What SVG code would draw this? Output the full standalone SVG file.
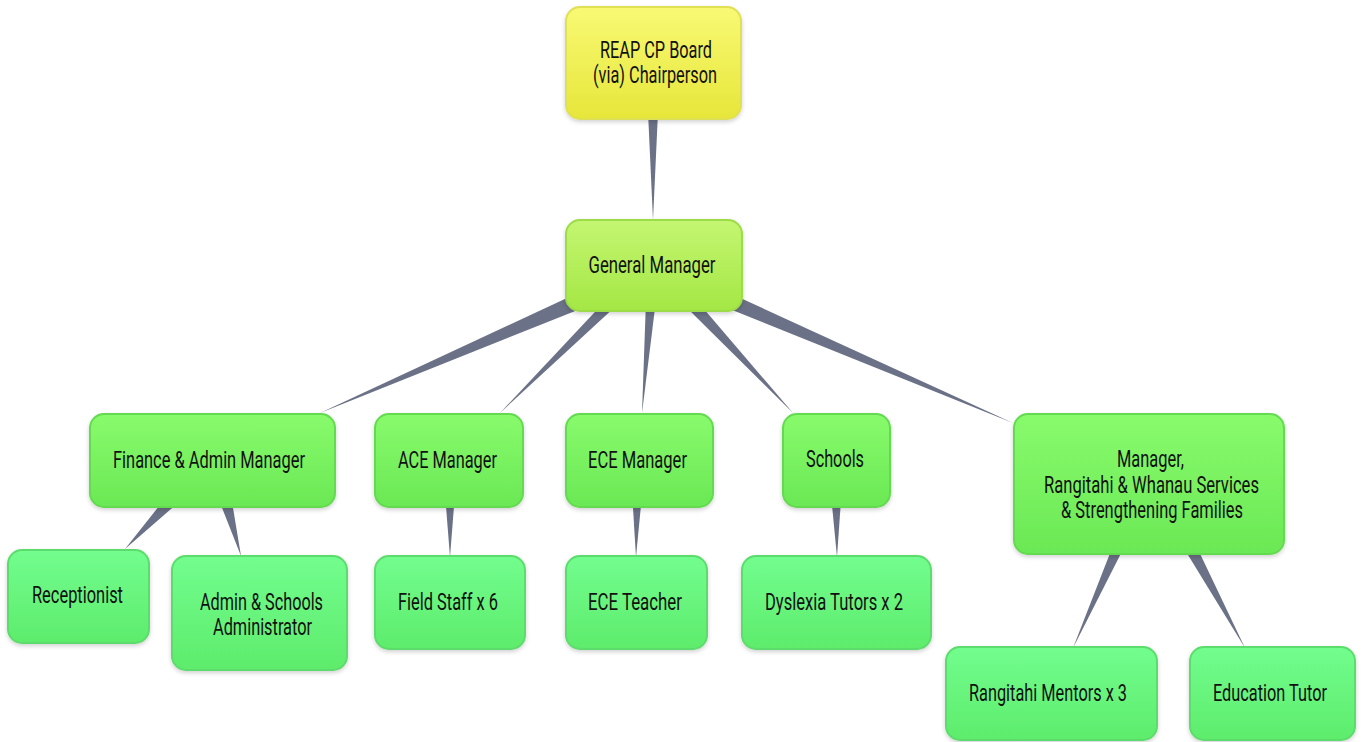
<svg xmlns="http://www.w3.org/2000/svg" width="1362" height="742" viewBox="0 0 1362 742">
<defs>
<linearGradient id="gY" x1="0" y1="0" x2="0" y2="1"><stop offset="0" stop-color="#f9f975"/><stop offset="1" stop-color="#e6e63a"/></linearGradient>
<linearGradient id="gL" x1="0" y1="0" x2="0" y2="1"><stop offset="0" stop-color="#c4f672"/><stop offset="1" stop-color="#a4e744"/></linearGradient>
<linearGradient id="gG" x1="0" y1="0" x2="0" y2="1"><stop offset="0" stop-color="#88fb6c"/><stop offset="1" stop-color="#6be855"/></linearGradient>
<linearGradient id="gM" x1="0" y1="0" x2="0" y2="1"><stop offset="0" stop-color="#72fd8e"/><stop offset="1" stop-color="#5eec6c"/></linearGradient>
<filter id="sh" x="-10%" y="-10%" width="120%" height="130%"><feDropShadow dx="0" dy="2" stdDeviation="2" flood-color="#000" flood-opacity="0.18"/></filter>
<style>
.n{filter:url(#sh);stroke-width:2}
.y{fill:url(#gY);stroke:#e0e055}
.l{fill:url(#gL);stroke:#9cdc48}
.g{fill:url(#gG);stroke:#63da50}
.m{fill:url(#gM);stroke:#5cdc6c}
.t{font-family:Roboto,"Liberation Sans",sans-serif;font-size:23px;fill:#111;text-anchor:middle}
.c{fill:#6b7186}
</style>
</defs>
<rect width="1362" height="742" fill="#ffffff"/>
<g id="connectors">
<polygon class="c" points="648,112 658,112 653,220"/>
<polygon class="c" points="320,413 591.6,304.4 585.2,289.6"/>
<polygon class="c" points="500,413 616,306 608,298"/>
<polygon class="c" points="642,413 646,300 656,300"/>
<polygon class="c" points="793,413 694.3,297.8 685.3,306.2"/>
<polygon class="c" points="1013,423 725.5,291.2 719.7,305"/>
<polygon class="c" points="125,549 176.5,504.2 167.5,495.4"/>
<polygon class="c" points="241,556 231,495.7 218.6,499.1"/>
<polygon class="c" points="445.5,500 454.5,500 450,557"/>
<polygon class="c" points="632.5,500 641.5,500 636,557"/>
<polygon class="c" points="831.5,500 841,500 837,557"/>
<polygon class="c" points="1073,648 1124.6,546.2 1114.6,541.6"/>
<polygon class="c" points="1245,648 1194.1,541.2 1183.3,547.2"/>
</g>
<g id="board"><rect class="n y" x="566" y="7" width="175" height="112" rx="14"/>
<text class="t" x="656" y="58" textLength="112" lengthAdjust="spacingAndGlyphs">REAP CP Board</text>
<text class="t" x="655" y="83" textLength="124" lengthAdjust="spacingAndGlyphs">(via) Chairperson</text></g>
<g id="gm"><rect class="n l" x="566" y="220" width="176" height="91" rx="14"/>
<text class="t" x="652" y="273" textLength="127" lengthAdjust="spacingAndGlyphs">General Manager</text></g>
<g id="finance"><rect class="n g" x="90" y="414" width="245" height="93" rx="14"/>
<text class="t" x="209" y="468" textLength="192" lengthAdjust="spacingAndGlyphs">Finance &amp; Admin Manager</text></g>
<g id="ace"><rect class="n g" x="375" y="414" width="148" height="93" rx="14"/>
<text class="t" x="447.5" y="468" textLength="99" lengthAdjust="spacingAndGlyphs">ACE Manager</text></g>
<g id="ece"><rect class="n g" x="566" y="414" width="147" height="93" rx="14"/>
<text class="t" x="637.5" y="468" textLength="99" lengthAdjust="spacingAndGlyphs">ECE Manager</text></g>
<g id="schools"><rect class="n g" x="783" y="414" width="107" height="93" rx="14"/>
<text class="t" x="835" y="467" textLength="58" lengthAdjust="spacingAndGlyphs">Schools</text></g>
<g id="rangitahi-manager"><rect class="n g" x="1014" y="414" width="270" height="140" rx="14"/>
<text class="t" x="1150.5" y="467" textLength="67" lengthAdjust="spacingAndGlyphs">Manager,</text>
<text class="t" x="1151.5" y="493" textLength="215" lengthAdjust="spacingAndGlyphs">Rangitahi &amp; Whanau Services</text>
<text class="t" x="1152" y="518" textLength="182" lengthAdjust="spacingAndGlyphs">&amp; Strengthening Families</text></g>
<g id="receptionist"><rect class="n m" x="8" y="550" width="141" height="93" rx="14"/>
<text class="t" x="77.5" y="603" textLength="91" lengthAdjust="spacingAndGlyphs">Receptionist</text></g>
<g id="admin-schools"><rect class="n m" x="172" y="556" width="175" height="114" rx="14"/>
<text class="t" x="261.5" y="610" textLength="123" lengthAdjust="spacingAndGlyphs">Admin &amp; Schools</text>
<text class="t" x="262.5" y="635" textLength="99" lengthAdjust="spacingAndGlyphs">Administrator</text></g>
<g id="field-staff"><rect class="n m" x="375" y="556" width="150" height="93" rx="14"/>
<text class="t" x="448" y="610" textLength="100" lengthAdjust="spacingAndGlyphs">Field Staff x 6</text></g>
<g id="ece-teacher"><rect class="n m" x="566" y="556" width="141" height="93" rx="14"/>
<text class="t" x="635" y="610" textLength="94" lengthAdjust="spacingAndGlyphs">ECE Teacher</text></g>
<g id="dyslexia"><rect class="n m" x="742" y="556" width="189" height="93" rx="14"/>
<text class="t" x="834" y="610" textLength="138" lengthAdjust="spacingAndGlyphs">Dyslexia Tutors x 2</text></g>
<g id="mentors"><rect class="n m" x="946" y="647" width="211" height="93" rx="14"/>
<text class="t" x="1048" y="701" textLength="158" lengthAdjust="spacingAndGlyphs">Rangitahi Mentors x 3</text></g>
<g id="edu-tutor"><rect class="n m" x="1190" y="647" width="165" height="93" rx="14"/>
<text class="t" x="1270" y="701" textLength="114" lengthAdjust="spacingAndGlyphs">Education Tutor</text></g>
</svg>
